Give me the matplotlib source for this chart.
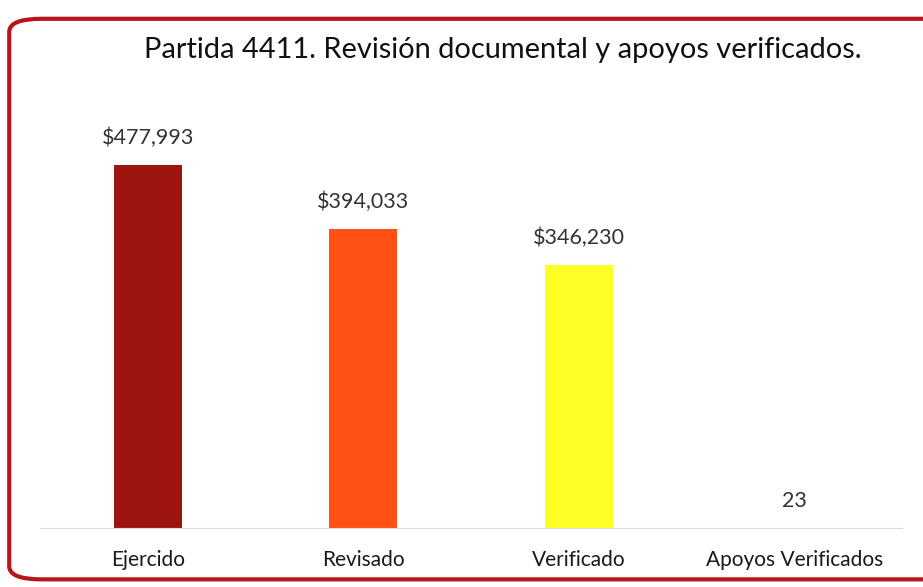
import matplotlib.pyplot as plt
from matplotlib.patches import FancyBboxPatch

# data
categorias = ['Ejercido', 'Revisado', 'Verificado', 'Apoyos Verificados']
montos = [477993, 394033, 346230, 23]
etiquetas = ['$477,993', '$394,033', '$346,230', '23']
colores = ['#9e1510', '#ff5113', '#ffff26', '#ffff26']

plt.rcParams['font.family'] = ['Lato', 'DejaVu Sans']

fig = plt.figure(figsize=(9.23, 5.87), dpi=100)

# rounded red frame around the chart
marco = FancyBboxPatch((0.010, 0.013), 1.05, 0.955, transform=fig.transFigure,
                       boxstyle='round,pad=0,rounding_size=0.035',
                       facecolor='none', edgecolor='#b5161b', linewidth=3,
                       mutation_aspect=587 / 923, zorder=-1)
fig.patches.append(marco)

ax = fig.add_axes([0.0433, 0.1005, 0.934, 0.695])
ax.set_facecolor('none')

x = range(len(categorias))
ax.bar(x, montos, width=0.317, color=colores)
ax.set_ylim(0, 537243)
ax.set_xlim(-0.5, 3.5)

for i, (v, t) in enumerate(zip(montos, etiquetas)):
    ax.text(i, v + 537243 * 0.042, t, ha='center', va='bottom',
            fontsize=15.5, color='#333333')

ax.set_xticks(list(x))
ax.set_xticklabels(categorias, fontsize=15, color='#1a1a1a')
ax.tick_params(axis='x', length=0, pad=16)
ax.set_yticks([])
for s in ['left', 'right', 'top']:
    ax.spines[s].set_visible(False)
ax.spines['bottom'].set_color('#d9d9d9')

fig.text(0.545, 0.915, 'Partida 4411. Revisión documental y apoyos verificados.',
         ha='center', va='center', fontsize=20.9, color='#111111')

fig.savefig('out.png', dpi=100)
